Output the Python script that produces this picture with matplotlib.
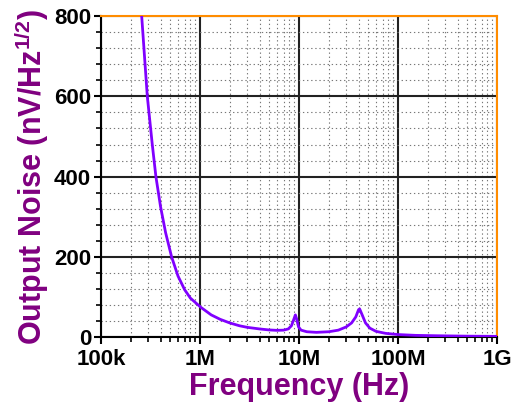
import matplotlib
matplotlib.use('Agg')
import matplotlib.pyplot as plt
from matplotlib.ticker import FixedLocator, LogLocator, MultipleLocator, NullFormatter

plt.rcParams['font.family'] = ['Liberation Sans', 'DejaVu Sans']
plt.rcParams['mathtext.fontset'] = 'custom'
plt.rcParams['mathtext.bf'] = 'Liberation Sans:bold'
plt.rcParams['mathtext.rm'] = 'Liberation Sans:bold'

# values
freq = [2.3e5, 2.58e5, 2.94e5, 3.3e5, 3.59e5, 4.0e5, 4.5e5, 5.17e5, 6.0e5, 7.0e5, 8.0e5,
        1.02e6, 1.3e6, 1.6e6, 2.0e6, 2.5e6, 3.0e6, 4.0e6, 5.0e6, 6.0e6, 7.0e6, 7.8e6,
        8.4e6, 8.9e6, 9.2e6, 9.5e6, 9.9e6, 1.05e7, 1.2e7, 1.5e7, 2.0e7, 2.5e7, 3.0e7,
        3.4e7, 3.75e7, 4.0e7, 4.1e7, 4.35e7, 4.7e7, 5.2e7, 6.0e7, 7.5e7, 1.0e8, 1.5e8,
        2.5e8, 5e8, 1e9]
noise = [1000, 800, 600, 480, 400, 325, 260, 200, 152, 118, 97,
         74, 55, 44, 35, 28, 24, 20, 17.5, 16.5, 17, 20,
         28, 45, 55, 44, 25, 17, 13, 11.5, 13, 17, 25,
         35, 50, 68, 70, 55, 35, 22, 14, 9, 6, 4,
         3, 2, 1.5]
x_ticks = [1e5, 1e6, 1e7, 1e8, 1e9]
x_labels = ['100k', '1M', '10M', '100M', '1G']
y_ticks = [0, 200, 400, 600, 800]

fig = plt.figure(figsize=(5.15, 4.05), dpi=100)
ax = fig.add_axes([0.196, 0.168, 0.769, 0.792])

ax.plot(freq, noise, color='#8000ff', lw=2.0, zorder=3)
ax.set_xscale('log')
ax.set_xlim(1e5, 1e9)
ax.set_ylim(0, 800)

ax.xaxis.set_major_locator(FixedLocator(x_ticks))
ax.set_xticklabels(x_labels)
ax.xaxis.set_minor_locator(LogLocator(base=10, subs=range(2, 10)))
ax.xaxis.set_minor_formatter(NullFormatter())
ax.set_yticks(y_ticks)
ax.yaxis.set_minor_locator(MultipleLocator(40))

ax.grid(which='major', color='#222222', lw=1.5, ls='-')
ax.grid(which='minor', color='#777777', lw=0.8, ls=(0, (1.2, 2.5)))
ax.set_axisbelow(True)

ax.tick_params(which='major', direction='out', length=5, width=1.5, labelsize=16,
               colors='black', pad=2)
ax.tick_params(axis='x', which='major', pad=4)
ax.tick_params(which='minor', direction='out', length=3.5, width=1.2)
for lbl in ax.get_xticklabels() + ax.get_yticklabels():
    lbl.set_fontweight('bold')

for s in ['left', 'bottom']:
    ax.spines[s].set_color('black')
    ax.spines[s].set_linewidth(1.5)
for s in ['top', 'right']:
    ax.spines[s].set_color('#ff8c00')
    ax.spines[s].set_linewidth(1.5)

ax.set_xlabel('Frequency (Hz)', color='#800080', fontsize=22, fontweight='bold', labelpad=1)
ax.set_ylabel(r'Output Noise (nV/Hz$^{\mathbf{1/2}}$)', color='#800080', fontsize=22,
              fontweight='bold', labelpad=2)

fig.savefig('out.png', dpi=100)
